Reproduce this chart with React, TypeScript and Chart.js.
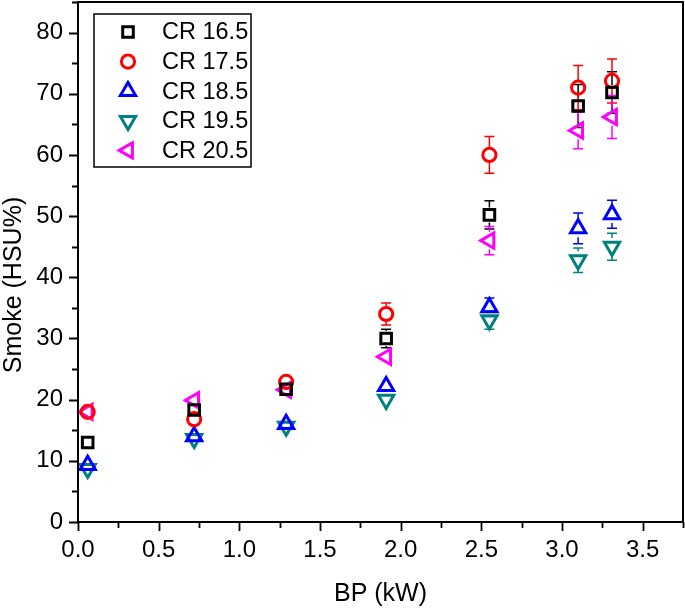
import React, { useEffect, useRef } from "react";
import { Chart, registerables } from "chart.js";

Chart.register(...registerables);

const xValues = [0.06, 0.72, 1.29, 1.91, 2.55, 3.1, 3.31];
const seriesNames = ["CR 16.5", "CR 17.5", "CR 18.5", "CR 19.5", "CR 20.5"];
const cr165 = [13, 18.3, 21.7, 30, 50.2, 68, 70.2];
const cr175 = [18, 16.8, 22.9, 34, 60, 71, 72.1];
const cr185 = [9.3, 14, 16, 22.2, 35.1, 48, 50.3];
const cr195 = [8.7, 13.6, 15.6, 20, 33, 42.8, 45];
const cr205 = [18, 19.9, 21.6, 27, 46, 64, 66.2];
const err165 = [0.5, 0.8, 0.8, 1.5, 2.3, 3.5, 3.4];
const err175 = [0.5, 0.8, 0.8, 1.8, 3, 3.6, 3.6];
const err185 = [0.4, 0.6, 0.6, 1, 1.5, 2.5, 2.3];
const err195 = [0.4, 0.6, 0.6, 1, 1.5, 2, 2.2];
const err205 = [0.5, 0.8, 0.8, 1.3, 2.3, 3, 3.5];
const xTickValues = [0, 0.5, 1, 1.5, 2, 2.5, 3, 3.5];
const yTickValues = [0, 10, 20, 30, 40, 50, 60, 70, 80];
const xTitle = "BP (kW)";
const yTitle = "Smoke (HSU%)";

const FONT = "'Liberation Sans', Arial, sans-serif";

const seriesValues = [cr165, cr175, cr185, cr195, cr205];
const seriesErrors = [err165, err175, err185, err195, err205];
const colors = ["#000000", "#ff0000", "#0000ff", "#008080", "#ff00ff"];
const styles = ["rect", "circle", "triangle", "triangle", "triangle"];
const rotations = [0, 0, 0, 180, 270];
const radii = [7.5, 6.6, 8.8, 8.8, 8.8];
const MARKER_LW = 3;

function drawMarker(ctx, style, x, y, r, rot, color) {
  ctx.save();
  ctx.strokeStyle = color;
  ctx.lineWidth = MARKER_LW;
  ctx.beginPath();
  if (style === "rect") {
    const s = r * Math.SQRT1_2;
    ctx.rect(x - s, y - s, 2 * s, 2 * s);
  } else if (style === "circle") {
    ctx.arc(x, y, r, 0, Math.PI * 2);
  } else {
    let rad = (rot * Math.PI) / 180;
    for (let k = 0; k < 3; k++) {
      const px = x + Math.sin(rad) * r;
      const py = y - Math.cos(rad) * r;
      if (k === 0) ctx.moveTo(px, py);
      else ctx.lineTo(px, py);
      rad += (2 * Math.PI) / 3;
    }
    ctx.closePath();
  }
  ctx.stroke();
  ctx.restore();
}

const framePlugin = {
  id: "frameTicks",
  beforeDatasetsDraw(chart) {
    const ctx = chart.ctx;
    const xs = chart.scales.x;
    const ys = chart.scales.y;
    seriesValues.forEach((vals, i) => {
      const errs = seriesErrors[i];
      ctx.save();
      ctx.strokeStyle = colors[i];
      ctx.lineWidth = 1.5;
      vals.forEach((v, j) => {
        const px = xs.getPixelForValue(xValues[j]);
        const py = ys.getPixelForValue(v);
        const top = ys.getPixelForValue(v + errs[j]);
        const bot = ys.getPixelForValue(v - errs[j]);
        const r = radii[i];
        ctx.beginPath();
        if (top < py - r) {
          ctx.moveTo(px, top);
          ctx.lineTo(px, py - r);
          ctx.moveTo(px - 5, top);
          ctx.lineTo(px + 5, top);
        }
        if (bot > py + r) {
          ctx.moveTo(px, bot);
          ctx.lineTo(px, py + r);
          ctx.moveTo(px - 5, bot);
          ctx.lineTo(px + 5, bot);
        }
        ctx.stroke();
      });
      ctx.restore();
    });
  },
  afterDraw(chart) {
    const ctx = chart.ctx;
    const { left, right, top, bottom } = chart.chartArea;
    const xs = chart.scales.x;
    const ys = chart.scales.y;
    ctx.save();
    ctx.strokeStyle = "#000";
    ctx.lineWidth = 2;
    ctx.strokeRect(left, top, right - left, bottom - top);
    ctx.lineWidth = 1.8;
    ctx.beginPath();
    for (let v = 0; v <= 3.75 + 1e-9; v += 0.25) {
      const px = Math.round(xs.getPixelForValue(v)) + 0.5;
      const major = Math.abs(v / 0.5 - Math.round(v / 0.5)) < 1e-6;
      ctx.moveTo(px, bottom);
      ctx.lineTo(px, bottom + (major ? 9 : 6));
    }
    for (let v = 0; v <= 85 + 1e-9; v += 5) {
      const py = Math.round(ys.getPixelForValue(v)) + 0.5;
      const major = v % 10 === 0;
      ctx.moveTo(left, py);
      ctx.lineTo(left - (major ? 9 : 6), py);
    }
    ctx.stroke();

    // axis titles
    ctx.fillStyle = "#000";
    ctx.font = `25px ${FONT}`;
    ctx.textAlign = "center";
    ctx.textBaseline = "middle";
    ctx.fillText(xTitle, (left + right) / 2, 594);
    ctx.save();
    ctx.translate(14, 285);
    ctx.rotate(-Math.PI / 2);
    ctx.fillText(yTitle, 0, 0);
    ctx.restore();

    // legend
    const lx = 94, ly = 14, lw = 157, lh = 153;
    ctx.lineWidth = 1.5;
    ctx.strokeRect(lx, ly, lw, lh);
    ctx.font = `23.5px ${FONT}`;
    ctx.textBaseline = "middle";
    ctx.textAlign = "left";
    seriesNames.forEach((name, i) => {
      const cy = 32 + i * 29.6;
      drawMarker(ctx, styles[i], 128, cy, radii[i], rotations[i], colors[i]);
      ctx.fillText(name, 162, cy + 1);
    });
    ctx.restore();
  },
};

export default function App() {
  const ref = useRef(null);
  useEffect(() => {
    document.body.style.margin = "0";
    const datasets = seriesNames.map((name, i) => ({
      label: name,
      data: xValues.map((x, j) => ({ x, y: seriesValues[i][j] })),
      pointStyle: styles[i],
      rotation: rotations[i],
      pointRadius: radii[i],
      pointHoverRadius: radii[i],
      pointBorderWidth: MARKER_LW,
      borderColor: colors[i],
      backgroundColor: "rgba(0,0,0,0)",
      showLine: false,
      clip: false,
    }));
    const zeroPad = (s) => {
      s.paddingTop = 0;
      s.paddingBottom = 0;
      s.paddingLeft = 0;
      s.paddingRight = 0;
    };
    const chart = new Chart(ref.current, {
      type: "scatter",
      data: { datasets },
      plugins: [framePlugin],
      options: {
        responsive: false,
        animation: false,
        layout: { autoPadding: false, padding: { top: 2, right: 2, left: 0, bottom: 0 } },
        plugins: { legend: { display: false }, tooltip: { enabled: false } },
        scales: {
          x: {
            type: "linear",
            min: 0,
            max: 3.75,
            afterBuildTicks: (s) => {
              s.ticks = xTickValues.map((v) => ({ value: v }));
            },
            afterFit: (s) => {
              s.height = 88;
              zeroPad(s);
            },
            grid: { display: false, drawTicks: false },
            border: { display: false },
            ticks: {
              color: "#000",
              font: { family: FONT, size: 24 },
              padding: 14,
              maxRotation: 0,
              callback: (v) => Number(v).toFixed(1),
            },
            title: { display: false },
          },
          y: {
            type: "linear",
            min: 0,
            max: 85,
            afterBuildTicks: (s) => {
              s.ticks = yTickValues.map((v) => ({ value: v }));
            },
            afterFit: (s) => {
              s.width = 78;
              zeroPad(s);
            },
            grid: { display: false, drawTicks: false },
            border: { display: false },
            ticks: {
              color: "#000",
              font: { family: FONT, size: 24 },
              padding: 15,
              callback: (v) => String(v),
            },
            title: { display: false },
          },
        },
      },
    });
    return () => chart.destroy();
  }, []);
  return (
    <div style={{ width: 685, height: 610 }}>
      <canvas ref={ref} width={685} height={610} />
    </div>
  );
}
